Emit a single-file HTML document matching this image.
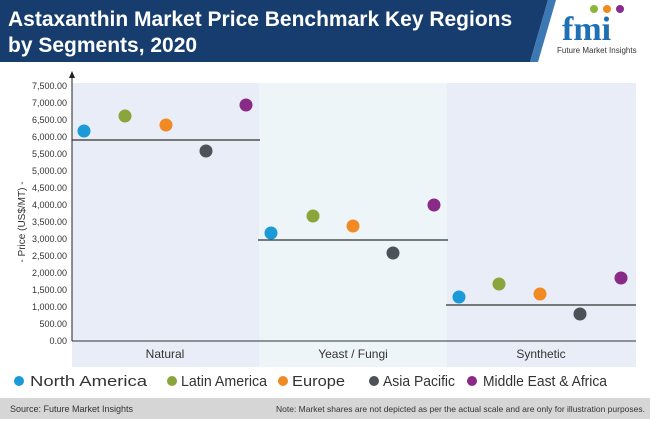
<!DOCTYPE html>
<html><head><meta charset="utf-8"><style>
body{margin:0;width:650px;height:419px;overflow:hidden;background:#fff;font-family:"Liberation Sans",sans-serif}
</style></head><body>
<svg width="650" height="419" xmlns="http://www.w3.org/2000/svg" font-family="Liberation Sans, sans-serif">
<polygon points="0,0 548,0 530,62 0,62" fill="#163d6d"/>
<polygon points="548,0 556,0 538,62 530,62" fill="#3c78b4"/>
<text x="8" y="26" font-size="21" font-weight="bold" fill="#fff">Astaxanthin Market Price Benchmark Key Regions</text>
<text x="8" y="52" font-size="21" font-weight="bold" fill="#fff">by Segments, 2020</text>
<text x="562" y="40" font-size="34" font-weight="bold" fill="#1f6fb5" font-family="Liberation Serif, serif">fmi</text>
<circle cx="594" cy="9" r="4" fill="#8bb53c"/><circle cx="607" cy="9" r="4" fill="#f28a1e"/><circle cx="620" cy="9" r="4" fill="#8a2b8e"/>
<text x="557" y="53" font-size="8" fill="#333">Future Market Insights</text>
<rect x="72" y="83" width="187" height="284" fill="#e8edf7"/>
<rect x="259" y="83" width="188" height="284" fill="#eef5f8"/>
<rect x="447" y="83" width="189" height="284" fill="#e8edf7"/>
<line x1="72" y1="341" x2="636" y2="341" stroke="#333" stroke-width="1"/>
<line x1="72" y1="341" x2="72" y2="76" stroke="#222" stroke-width="1"/>
<polygon points="72,71 69,78 75,78" fill="#222"/>
<g font-size="9" fill="#333" text-anchor="end">
<text x="67" y="344">0.00</text><text x="67" y="327">500.00</text><text x="67" y="310">1,000.00</text><text x="67" y="293">1,500.00</text><text x="67" y="276">2,000.00</text><text x="67" y="259">2,500.00</text><text x="67" y="242">3,000.00</text><text x="67" y="225">3,500.00</text><text x="67" y="208">4,000.00</text><text x="67" y="191">4,500.00</text><text x="67" y="174">5,000.00</text><text x="67" y="157">5,500.00</text><text x="67" y="140">6,000.00</text><text x="67" y="123">6,500.00</text><text x="67" y="106">7,000.00</text><text x="67" y="89">7,500.00</text>
</g>
<text transform="translate(25,222) rotate(-90)" font-size="10" fill="#333" text-anchor="middle">- Price (US$/MT) -</text>
<g stroke="#333" stroke-width="1.2">
<line x1="72" y1="140" x2="260" y2="140"/><line x1="258" y1="240" x2="448" y2="240"/><line x1="446" y1="305" x2="636" y2="305"/>
</g>
<g>
<circle cx="84" cy="131" r="6.5" fill="#1a9ad6"/><circle cx="125" cy="116" r="6.5" fill="#8aa63a"/><circle cx="166" cy="125" r="6.5" fill="#f28a24"/><circle cx="206" cy="151" r="6.5" fill="#4d5259"/><circle cx="246" cy="105" r="6.5" fill="#8a2a87"/>
<circle cx="271" cy="233" r="6.5" fill="#1a9ad6"/><circle cx="313" cy="216" r="6.5" fill="#8aa63a"/><circle cx="353" cy="226" r="6.5" fill="#f28a24"/><circle cx="393" cy="253" r="6.5" fill="#4d5259"/><circle cx="434" cy="205" r="6.5" fill="#8a2a87"/>
<circle cx="459" cy="297" r="6.5" fill="#1a9ad6"/><circle cx="499" cy="284" r="6.5" fill="#8aa63a"/><circle cx="540" cy="294" r="6.5" fill="#f28a24"/><circle cx="580" cy="314" r="6.5" fill="#4d5259"/><circle cx="621" cy="278" r="6.5" fill="#8a2a87"/>
</g>
<g font-size="12" fill="#333" text-anchor="middle">
<text x="165" y="358">Natural</text><text x="353" y="358">Yeast / Fungi</text><text x="541" y="358">Synthetic</text>
</g>
<g font-size="15" fill="#333">
<circle cx="19" cy="381" r="5" fill="#1a9ad6"/><text x="30" y="386" textLength="117" lengthAdjust="spacingAndGlyphs">North America</text>
<circle cx="172" cy="381" r="5" fill="#8aa63a"/><text x="181" y="386" textLength="86" lengthAdjust="spacingAndGlyphs">Latin America</text>
<circle cx="283" cy="381" r="5" fill="#f28a24"/><text x="292" y="386" textLength="53" lengthAdjust="spacingAndGlyphs">Europe</text>
<circle cx="374" cy="381" r="5" fill="#4d5259"/><text x="383" y="386" textLength="72" lengthAdjust="spacingAndGlyphs">Asia Pacific</text>
<circle cx="472" cy="381" r="5" fill="#8a2a87"/><text x="483" y="386" textLength="124" lengthAdjust="spacingAndGlyphs">Middle East &amp; Africa</text>
</g>
<rect x="0" y="398" width="650" height="21" fill="#d6d6d6"/>
<text x="10" y="412" font-size="9" fill="#333">Source: Future Market Insights</text>
<text x="645" y="412" font-size="8.5" fill="#333" text-anchor="end">Note: Market shares are not depicted as per the actual scale and are only for illustration purposes.</text>
</svg>
</body></html>
